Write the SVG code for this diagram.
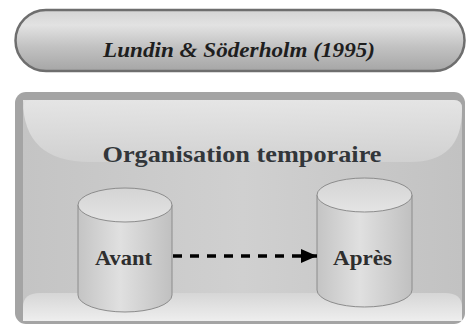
<svg xmlns="http://www.w3.org/2000/svg" width="468" height="327" viewBox="0 0 468 327">
<defs>
<linearGradient id="pillG" x1="0" y1="0" x2="0" y2="1">
<stop offset="0" stop-color="#d4d4d4"/>
<stop offset="0.25" stop-color="#e2e2e2"/>
<stop offset="0.6" stop-color="#c2c2c2"/>
<stop offset="1" stop-color="#a6a6a6"/>
</linearGradient>
<linearGradient id="panelG" x1="0" y1="0" x2="1" y2="0">
<stop offset="0" stop-color="#c4c4c4"/>
<stop offset="0.5" stop-color="#d0d0d0"/>
<stop offset="1" stop-color="#c2c2c2"/>
</linearGradient>
<linearGradient id="shineG" x1="0" y1="0" x2="0" y2="1">
<stop offset="0" stop-color="#e8e8e8"/>
<stop offset="1" stop-color="#d2d2d2"/>
</linearGradient>
<linearGradient id="bandG" x1="0" y1="0" x2="0" y2="1">
<stop offset="0" stop-color="#d6d6d6"/>
<stop offset="1" stop-color="#eeeeee"/>
</linearGradient>
<linearGradient id="cylG" x1="0" y1="0" x2="1" y2="0">
<stop offset="0" stop-color="#c4c4c4"/>
<stop offset="0.45" stop-color="#e0e0e0"/>
<stop offset="1" stop-color="#c0c0c0"/>
</linearGradient>
<linearGradient id="capG" x1="0" y1="0" x2="0" y2="1">
<stop offset="0" stop-color="#d4d4d4"/>
<stop offset="1" stop-color="#e4e4e4"/>
</linearGradient>
<marker id="ah" viewBox="0 0 16 14" refX="16" refY="7" markerWidth="16" markerHeight="14" markerUnits="userSpaceOnUse" orient="auto">
<path d="M0,0 L16,7 L0,14 Z" fill="#000"/>
</marker>
</defs>
<style>
.lbl{font-weight:bold;fill:#2e2e2e;text-anchor:middle}
.cyl{fill:url(#cylG);stroke:#8c8c8c;stroke-width:1}
.cap{fill:url(#capG);stroke:#8c8c8c;stroke-width:1}
</style>
<rect width="468" height="327" fill="#ffffff"/>
<g id="title">
<rect x="15.5" y="10" width="449" height="61" rx="30.5" fill="url(#pillG)" stroke="#6e6e6e" stroke-width="2.5"/>
<text class="lbl" font-family="'Liberation Serif', 'DejaVu Serif', serif" x="239" y="57" font-size="22" font-style="italic" style="fill:#1e1e1e" textLength="272" lengthAdjust="spacingAndGlyphs">Lundin &amp; Söderholm (1995)</text>
</g>
<g id="container">
<rect x="15" y="92" width="450" height="232" rx="11" fill="#a4a4a4"/>
<rect x="23" y="100" width="439" height="221" rx="8" fill="url(#panelG)"/>
<path d="M31,100 H454 Q462,100 462,108 V110 Q462,162 410,162 H90 Q23,162 23,100 Z" fill="url(#shineG)" opacity="0.9"/>
<path d="M23,321 V307 Q23,293 40,293 H445 Q462,293 462,307 V321 Z" fill="url(#bandG)"/>
<text class="lbl" font-family="'Liberation Serif', 'DejaVu Serif', serif" x="242" y="162" font-size="23" style="fill:#32363a" textLength="279" lengthAdjust="spacingAndGlyphs">Organisation temporaire</text>
</g>
<g id="avant">
<path class="cyl" d="M78,205 V295 A47,17 0 0 0 172,295 V205"/>
<ellipse class="cap" cx="125" cy="205" rx="47" ry="17"/>
<text class="lbl" font-family="'Liberation Serif', 'DejaVu Serif', serif" x="123.5" y="265" font-size="21" textLength="57" lengthAdjust="spacingAndGlyphs">Avant</text>
</g>
<g id="apres">
<path class="cyl" d="M317,195 V290 A47.5,17 0 0 0 412,290 V195"/>
<ellipse class="cap" cx="364.5" cy="195" rx="47.5" ry="17"/>
<text class="lbl" font-family="'Liberation Serif', 'DejaVu Serif', serif" x="362.5" y="265" font-size="21" textLength="59" lengthAdjust="spacingAndGlyphs">Après</text>
</g>
<g id="connectors">
<line x1="173" y1="256" x2="317" y2="256" stroke="#000" stroke-width="3.5" stroke-dasharray="9,8" marker-end="url(#ah)"/>
</g>
</svg>
